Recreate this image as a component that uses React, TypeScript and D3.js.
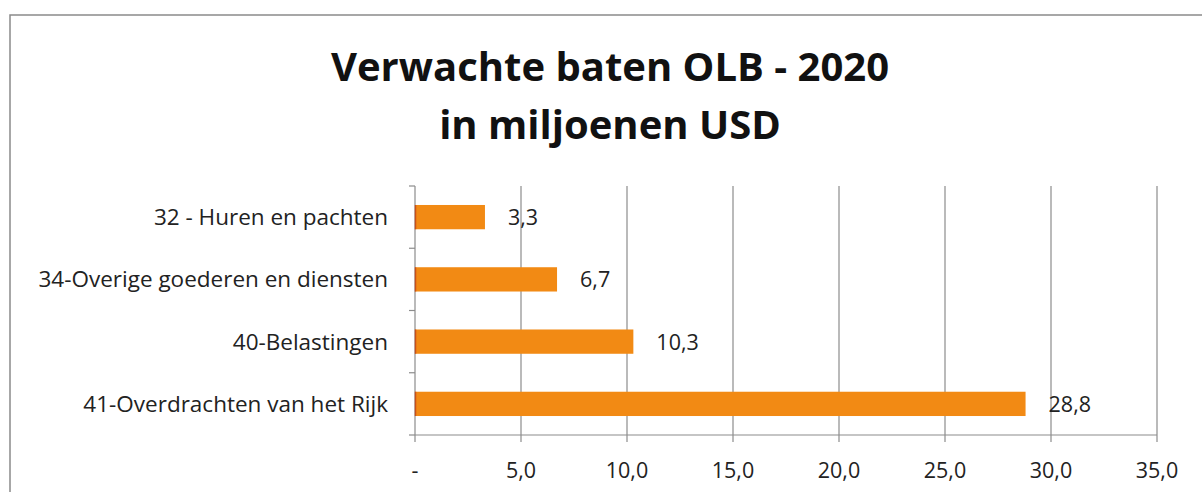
import React from "react";
import * as d3 from "d3";

const categories = [
  "32 - Huren en pachten",
  "34-Overige goederen en diensten",
  "40-Belastingen",
  "41-Overdrachten van het Rijk",
];
const values = [3.3, 6.7, 10.3, 28.8];
const xTicks = [0, 5, 10, 15, 20, 25, 30, 35];
const titleLines = ["Verwachte baten OLB - 2020", "in miljoenen USD"];

const W = 1202;
const H = 492;
const font = "'Open Sans', 'Noto Sans', sans-serif";
const fmt = (v: number) => (v === 0 ? "-" : v.toFixed(1).replace(".", ","));

export default function App() {
  const x = d3.scaleLinear().domain([0, 35]).range([415, 1157]);
  const y = d3.scaleBand<string>().domain(categories).range([186, 435]).paddingInner(0.61).paddingOuter(0.305);
  const bands = d3.range(categories.length + 1).map((i) => 186 + (i * (435 - 186)) / categories.length);
  return (
    <svg width={W} height={H} style={{ position: "absolute", left: 0, top: 0, background: "#fff" }}>
      <rect x={10} y={15} width={W + 20} height={H + 20} fill="#fff" stroke="#8a8a8a" strokeWidth={1.5} />
      {titleLines.map((t, i) => (
        <text key={t} x={610} y={81 + i * 58} textAnchor="middle" fontFamily={font} fontWeight={700} fontSize={40} fill="#111">
          {t}
        </text>
      ))}
      {xTicks.slice(1).map((t) => (
        <line key={t} x1={x(t)} x2={x(t)} y1={186} y2={442} stroke="#8c8c8c" strokeWidth={1.2} />
      ))}
      <line x1={x(0)} x2={x(0)} y1={186} y2={442} stroke="#8c8c8c" strokeWidth={1.2} />
      <line x1={x(0)} x2={x(35)} y1={435} y2={435} stroke="#8c8c8c" strokeWidth={1.2} />
      {bands.map((b, i) => (
        <line key={i} x1={x(0) - 6} x2={x(0)} y1={b} y2={b} stroke="#8c8c8c" strokeWidth={1.2} />
      ))}
      {xTicks.map((t) => (
        <text key={t} x={x(t)} y={478} textAnchor="middle" fontFamily={font} fontSize={21.5} fill="#222">
          {fmt(t)}
        </text>
      ))}
      {categories.map((c, i) => {
        const yy = y(c)!;
        const cy = yy + y.bandwidth() / 2;
        return (
          <g key={c}>
            <rect x={x(0)} y={yy} width={x(values[i]) - x(0)} height={y.bandwidth()} fill="#F28A14" />
            <line x1={x(0) + 0.5} x2={x(0) + 0.5} y1={yy} y2={yy + y.bandwidth()} stroke="#c8501a" strokeWidth={1.5} />
            <text x={x(values[i]) + 23} y={cy + 8} fontFamily={font} fontSize={21.5} fill="#222">
              {fmt(values[i])}
            </text>
            <text x={388} y={cy + 8} textAnchor="end" fontFamily={font} fontSize={22.5} fill="#222">
              {c}
            </text>
          </g>
        );
      })}
    </svg>
  );
}
